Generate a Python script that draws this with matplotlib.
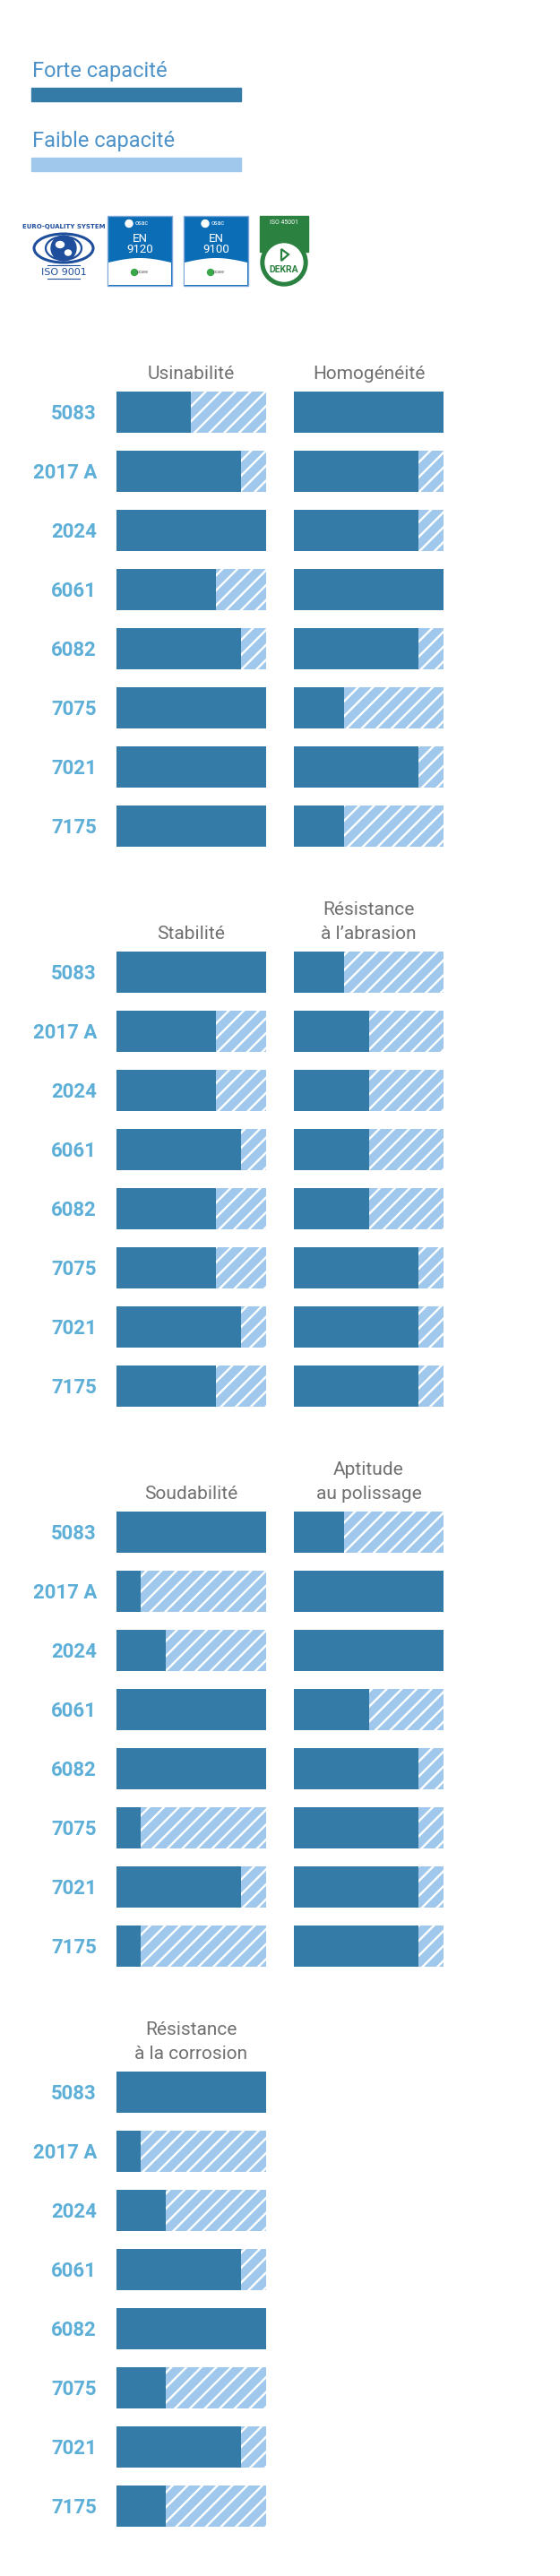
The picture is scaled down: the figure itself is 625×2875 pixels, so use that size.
import matplotlib
matplotlib.use('Agg')
import matplotlib.pyplot as plt
from matplotlib.patches import Rectangle, Circle, Ellipse, Polygon
import numpy as np

plt.rcParams['font.family'] = ['Roboto', 'DejaVu Sans']
plt.rcParams['hatch.linewidth'] = 1.7

# data
alloys = ['5083', '2017 A', '2024', '6061', '6082', '7075', '7021', '7175']
max_score = 6
usinabilite = [3, 5, 6, 4, 5, 6, 6, 6]
homogeneite = [6, 5, 5, 6, 5, 2, 5, 2]
stabilite = [6, 4, 4, 5, 4, 4, 5, 4]
abrasion = [2, 3, 3, 3, 3, 5, 5, 5]
soudabilite = [6, 1, 2, 6, 6, 1, 5, 1]
polissage = [2, 6, 6, 3, 5, 5, 5, 5]
corrosion = [6, 1, 2, 5, 6, 2, 5, 2]

sections = [
    [('Usinabilité', usinabilite), ('Homogénéité', homogeneite)],
    [('Stabilité', stabilite), ('Résistance\nà l\u2019abrasion', abrasion)],
    [('Soudabilité', soudabilite), ('Aptitude\nau polissage', polissage)],
    [('Résistance\nà la corrosion', corrosion)],
]

DARK = '#347ba8'
LIGHT = '#a0c8ec'
LABEL = '#5eafd8'
GRAY = '#707070'
LEGEND_TXT = '#4d92c8'

W, H = 625, 2875
fig = plt.figure(figsize=(W / 100, H / 100), dpi=100)


def px_axes(x0, y0, w, h):
    return fig.add_axes([x0 / W, 1 - (y0 + h) / H, w / W, h / H])


# legend
fig.text(36 / W, 1 - 86 / H, 'Forte capacité', fontsize=17, color=LEGEND_TXT, va='baseline')
fig.text(36 / W, 1 - 164 / H, 'Faible capacité', fontsize=17, color=LEGEND_TXT, va='baseline')
fig.add_artist(Rectangle((35 / W, 1 - 113 / H), 234 / W, 15 / H, color=DARK, transform=fig.transFigure))
fig.add_artist(Rectangle((35 / W, 1 - 191 / H), 234 / W, 15 / H, color=LIGHT, transform=fig.transFigure))

# certification logos (rough drawings)
lg = px_axes(30, 236, 320, 90)
lg.set_xlim(30, 350)
lg.set_ylim(326, 236)
lg.axis('off')
eqs = '#1f4f9c'
lg.text(71, 253, 'EURO-QUALITY SYSTEM', fontsize=5, fontweight='bold', color=eqs,
        ha='center', va='center', family='DejaVu Sans Condensed')
lg.add_patch(Ellipse((71, 277), 66, 32, fill=False, ec=eqs, lw=2.2))
lg.add_patch(Ellipse((71, 277), 40, 26, fill=False, ec=eqs, lw=1.6))
lg.add_patch(Circle((71, 277), 14, color=eqs))
lg.add_patch(Ellipse((67, 273), 9, 7, color='white'))
lg.add_patch(Ellipse((76, 282), 7, 6, color='white'))
lg.text(71, 304, 'ISO 9001', fontsize=8, color=eqs, ha='center', va='center', family='DejaVu Sans Condensed')
lg.plot([53, 89], [296, 296], color=eqs, lw=0.8)
lg.plot([53, 89], [311, 311], color=eqs, lw=0.8)

for x0, code in [(120, '9120'), (205, '9100')]:
    lg.add_patch(Rectangle((x0, 241), 72, 78, fc='#0a6db6', ec='#7fa6d9', lw=1))
    xs = np.linspace(x0 + 1, x0 + 71, 30)
    ys = 293 - 5 * np.sin(np.linspace(0, np.pi, 30))
    pts = [(x0 + 1, 318)] + list(zip(xs, ys)) + [(x0 + 71, 318)]
    lg.add_patch(Polygon(pts, fc='white', ec='none'))
    lg.add_patch(Circle((x0 + 24, 249.5), 4, color='white'))
    lg.text(x0 + 38, 249.5, 'osac', fontsize=5, color='white', ha='center', va='center')
    lg.text(x0 + 36, 266, 'EN', fontsize=9.5, color='white', ha='center', va='center')
    lg.text(x0 + 36, 278, code, fontsize=9.5, color='white', ha='center', va='center')
    lg.add_patch(Circle((x0 + 30, 304), 3.5, color='#3aa84a'))
    lg.text(x0 + 39, 304, 'pcave', fontsize=3.5, color='#555555', ha='center', va='center')

green = '#2a8140'
lg.add_patch(Rectangle((290, 241), 54, 40, color=green))
lg.add_patch(Circle((317, 293), 26, color=green))
lg.add_patch(Circle((317, 293), 21, color='white'))
lg.text(317, 248, 'ISO 45001', fontsize=5, color='white', ha='center', va='center')
lg.add_patch(Polygon([(314, 278), (314, 291), (322, 284)], fc='white', ec=green, lw=1.6))
lg.text(317, 301, 'DEKRA', fontsize=7.5, fontweight='bold', color=green, ha='center', va='center')

# bar panels
pitch = 66
bar_px = 46
sec_pitch = 625
first_top = 426.7
col_x = [129.5, 328]
col_w = 167
ypos = np.arange(len(alloys))

for s, panels in enumerate(sections):
    top = first_top + s * sec_pitch
    for c, (title, vals) in enumerate(panels):
        ax = px_axes(col_x[c], top, col_w, pitch * len(alloys))
        ax.set_xlim(0, max_score)
        ax.set_ylim(len(alloys) - 0.5, -0.5)
        ax.barh(ypos, [max_score] * len(alloys), height=bar_px / pitch, color=LIGHT,
                hatch='//', edgecolor='white', linewidth=0)
        ax.barh(ypos, vals, height=bar_px / pitch, color=DARK, linewidth=0)
        for sp in ax.spines.values():
            sp.set_visible(False)
        ax.set_xticks([])
        if c == 0:
            ax.set_yticks(ypos, alloys)
            ax.tick_params(axis='y', length=0, pad=15.5)
            for t in ax.get_yticklabels():
                t.set_fontsize(16)
                t.set_fontweight('bold')
                t.set_color(LABEL)
        else:
            ax.set_yticks([])
        ax.text(0.5, 1.0, title, transform=ax.transAxes, ha='center', va='bottom',
                fontsize=15, color=GRAY, linespacing=1.5)

fig.savefig('out.png', dpi=100, facecolor='white')
